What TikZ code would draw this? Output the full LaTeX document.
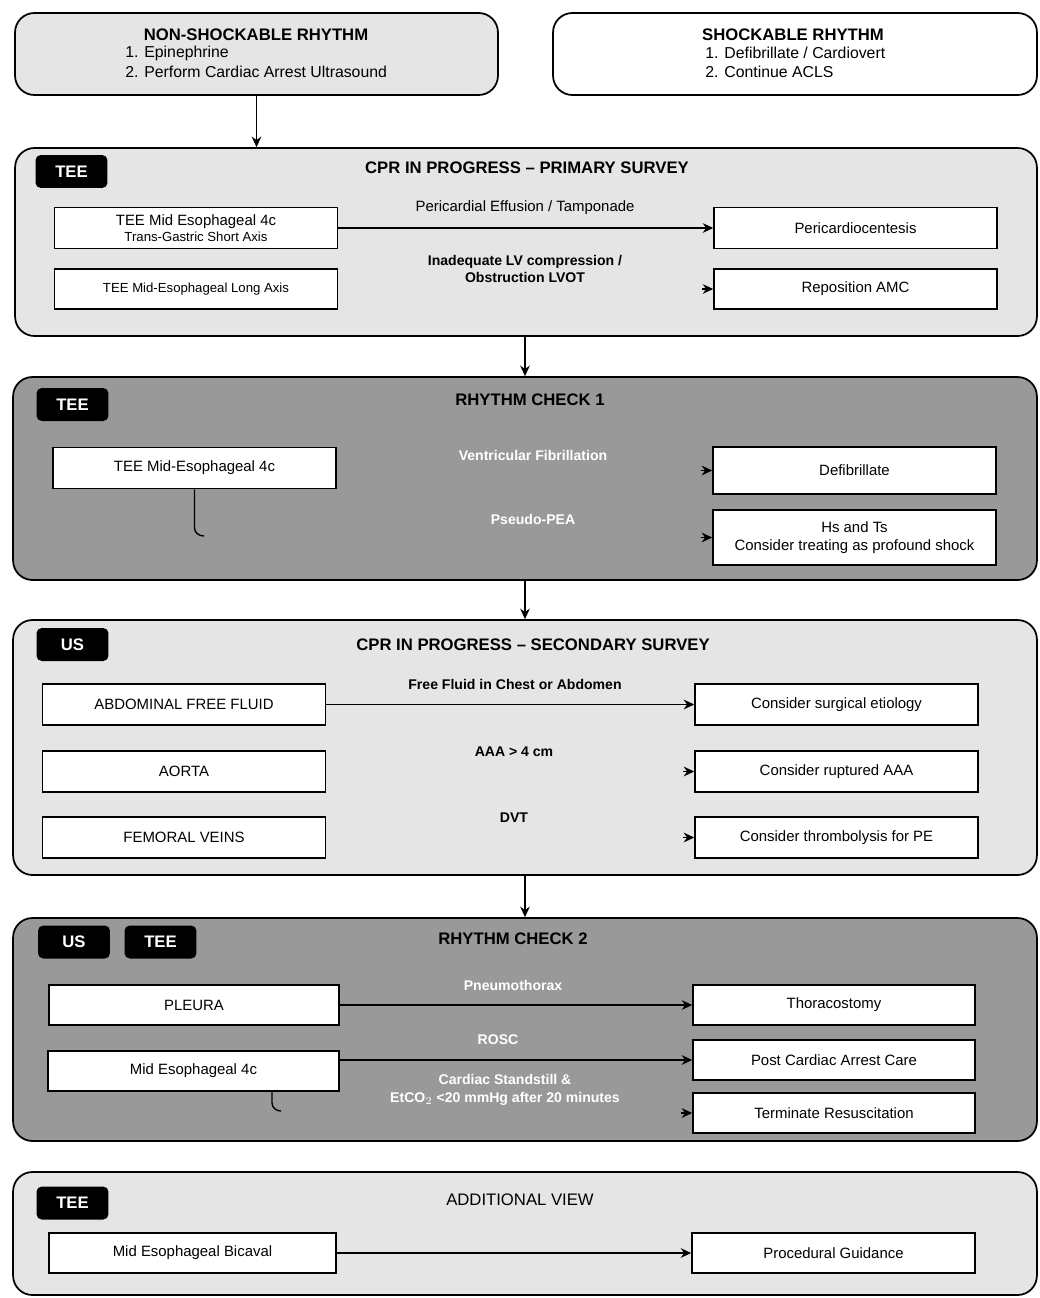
\documentclass[tikz,border=0pt]{standalone}
\usepackage{fontspec}
\setmainfont{Liberation Sans}
\usetikzlibrary{arrows.meta}
\definecolor{lightpanel}{gray}{0.9}
\definecolor{darkpanel}{gray}{0.6}

\begin{document}
\begin{tikzpicture}[x=0.02cm, y=-0.02cm,
  panel/.style={draw, line width=1pt, rounded corners=11pt, inner sep=0pt},
  badge/.style={fill=black, text=white, rounded corners=3pt, minimum width=1.44cm, minimum height=0.66cm, inner sep=0pt, font=\bfseries\fontsize{9.5}{11}\selectfont},
  viewbox/.style={draw, fill=white, line width=0.9pt, minimum width=5.66cm, minimum height=0.82cm, inner sep=1pt, align=center, font=\fontsize{8.5}{10}\selectfont},
  headline/.style={font=\bfseries\fontsize{9.5}{11}\selectfont},
  item/.style={anchor=west, inner sep=0pt, font=\fontsize{9}{11}\selectfont},
  cue/.style={align=center, font=\bfseries\fontsize{8}{10}\selectfont},
  link/.style={-{Stealth[length=6pt, width=5.5pt]}, line width=0.8pt}]
\useasboundingbox (0,0) rectangle (1039,1298);

\node[panel, fill=lightpanel, minimum width=9.66cm, minimum height=1.64cm] (ns) at (256.5,54) {};
\node[headline] (nst) at (256,35) {NON-SHOCKABLE RHYTHM};
\node[item] (ns1) at (125,53) {1. Epinephrine};
\node[item] (ns2) at (125,72) {2. Perform Cardiac Arrest Ultrasound};

\node[panel, fill=white, minimum width=9.68cm, minimum height=1.64cm] (sh) at (795,54) {};
\node[headline] (sht) at (793,35) {SHOCKABLE RHYTHM};
\node[item] (sh1) at (705,53) {1. Defibrillate / Cardiovert};
\node[item] (sh2) at (705,72) {2. Continue ACLS};

% primary survey
\node[panel, fill=lightpanel, minimum width=20.44cm, minimum height=3.76cm] (p1) at (526,242) {};
\node[badge] (b1) at (71.5,171.5) {TEE};
\node[headline] (t1) at (527,168) {CPR IN PROGRESS -- PRIMARY SURVEY};
\node[viewbox] (a1) at (196,228) {TEE Mid Esophageal 4c\\[-1pt]{\fontsize{7.5}{9}\selectfont Trans-Gastric Short Axis}};
\node[viewbox, minimum height=0.8cm, font=\fontsize{7.5}{9}\selectfont] (a2) at (196,289) {TEE Mid-Esophageal Long Axis};
\node[viewbox] (r1) at (855.5,228) {Pericardiocentesis};
\node[viewbox, minimum height=0.8cm] (r2) at (855.5,289) {Reposition AMC};
\draw[link] (a1) -- (r1);
\node[font=\fontsize{8.5}{10}\selectfont] (q1) at (525,208) {Pericardial Effusion / Tamponade};
\node[cue] (q2) at (525,269) {Inadequate LV compression /\\Obstruction LVOT};
\coordinate (s2) at (702,289);
\draw[link] (s2) -- (r2);

% rhythm check 1
\node[panel, fill=darkpanel, minimum width=20.48cm, minimum height=4.06cm] (p2) at (525,478.5) {};
\node[badge] (b2) at (72.5,404.5) {TEE};
\node[headline] (t2) at (530,400) {RHYTHM CHECK 1};
\node[viewbox] (c1) at (194.5,468) {TEE Mid-Esophageal 4c};
\node[viewbox, minimum height=0.94cm] (d1) at (854.5,470.5) {Defibrillate};
\node[viewbox, minimum height=1.1cm] (d2) at (854.5,537.5) {Hs and Ts\\Consider treating as profound shock};
\node[cue, text=white] (v1) at (533,455) {Ventricular Fibrillation};
\node[cue, text=white] (v2) at (533,519) {Pseudo-PEA};
\coordinate (sd1) at (701,470.5);
\coordinate (sd2) at (701,537.5);
\draw[link] (sd1) -- (d1);
\draw[link] (sd2) -- (d2);
\coordinate (hk1) at (204,536);
\draw[line width=0.8pt] (c1.south) -- (194.5,528) to[out=-90, in=180] (hk1);

% secondary survey
\node[panel, fill=lightpanel, minimum width=20.48cm, minimum height=5.1cm] (p3) at (525,747.5) {};
\node[badge] (b3) at (72.5,644.5) {US};
\node[headline] (t3) at (533,645) {CPR IN PROGRESS -- SECONDARY SURVEY};
\node[viewbox] (e1) at (184,704.5) {ABDOMINAL FREE FLUID};
\node[viewbox] (e2) at (184,771.5) {AORTA};
\node[viewbox] (e3) at (184,837.5) {FEMORAL VEINS};
\node[viewbox] (f1) at (836.5,704.5) {Consider surgical etiology};
\node[viewbox] (f2) at (836.5,771.5) {Consider ruptured AAA};
\node[viewbox] (f3) at (836.5,837.5) {Consider thrombolysis for PE};
\draw[link] (e1) -- (f1);
\node[cue] (w1) at (515,684) {Free Fluid in Chest or Abdomen};
\node[cue] (w2) at (514,752) {AAA > 4 cm};
\node[cue] (w3) at (514,818) {DVT};
\coordinate (sf2) at (683,771.5);
\coordinate (sf3) at (683,837.5);
\draw[link] (sf2) -- (f2);
\draw[link] (sf3) -- (f3);

% rhythm check 2
\node[panel, fill=darkpanel, minimum width=20.48cm, minimum height=4.46cm] (p4) at (525,1029.5) {};
\node[badge] (b4) at (74,942) {US};
\node[badge] (b5) at (160.5,942) {TEE};
\node[headline] (t4) at (513,939) {RHYTHM CHECK 2};
\node[viewbox, minimum width=5.8cm, minimum height=0.8cm] (g1) at (194,1005) {PLEURA};
\node[viewbox, minimum width=5.82cm, minimum height=0.8cm] (g2) at (193.5,1071) {Mid Esophageal 4c};
\node[viewbox, minimum width=5.64cm, minimum height=0.8cm] (h1) at (834,1005) {Thoracostomy};
\node[viewbox, minimum width=5.64cm, minimum height=0.8cm] (h2) at (834,1060) {Post Cardiac Arrest Care};
\node[viewbox, minimum width=5.64cm, minimum height=0.8cm] (h3) at (834,1113) {Terminate Resuscitation};
\draw[link] (g1) -- (h1);
\draw[link] (g2.east |- h2.west) -- (h2);
\node[cue, text=white] (x1) at (513,985) {Pneumothorax};
\node[cue, text=white] (x2) at (498,1040) {ROSC};
\node[cue, text=white] (x3) at (505,1090) {Cardiac Standstill \&\\EtCO$_2$ <20 mmHg after 20 minutes};
\coordinate (sh3) at (681,1113);
\draw[link] (sh3) -- (h3);
\coordinate (hk2) at (281,1111);
\draw[line width=0.8pt] (g2.south -| 272,0) -- (272,1103) to[out=-90, in=180] (hk2);

% additional view
\node[panel, fill=lightpanel, minimum width=20.48cm, minimum height=2.46cm] (p5) at (525,1233.5) {};
\node[badge] (b6) at (72.5,1203) {TEE};
\node[font=\fontsize{9.5}{11}\selectfont] (t5) at (520,1200) {ADDITIONAL VIEW};
\node[viewbox, minimum width=5.74cm, minimum height=0.8cm] (i1) at (192.5,1253) {Mid Esophageal Bicaval};
\node[viewbox, minimum width=5.66cm, minimum height=0.8cm] (j1) at (833.5,1253) {Procedural Guidance};
\draw[link] (i1) -- (j1);

\draw[link] (ns.south) -- (ns.south |- p1.north);
\draw[link] (p1.south -| p2.north) -- (p2.north);
\draw[link] (p2.south) -- (p3.north);
\draw[link] (p3.south) -- (p4.north);
\end{tikzpicture}
\end{document}
